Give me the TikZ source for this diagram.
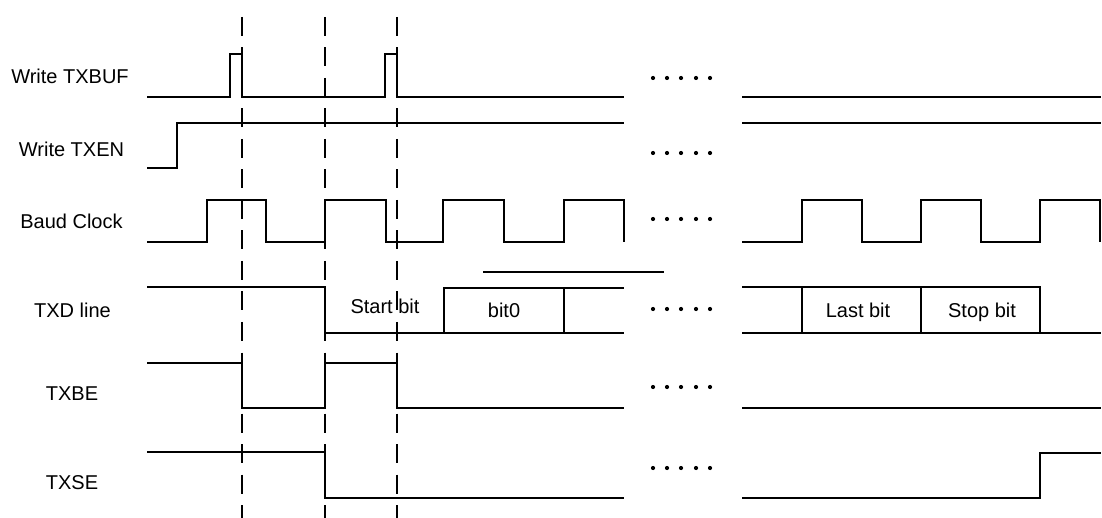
\documentclass[tikz,border=0pt]{standalone}
\usepackage{fontspec}
\setmainfont{Liberation Sans}
\begin{document}
\begin{tikzpicture}[x=1pt, y=-1pt,
    wave/.style={draw, line width=2.2pt},
    guide/.style={draw, line width=2pt, dash pattern=on 19pt off 11.5pt},
    lbl/.style={anchor=base, inner sep=0pt, font=\fontsize{20}{24}\selectfont}]
    \useasboundingbox (0,0) rectangle (1102,518);
    \node[lbl] (wbuf)  at (70,   84)  {Write TXBUF};
    \node[lbl] (wen)   at (71.5, 157) {Write TXEN};
    \node[lbl] (baud)  at (71.5, 229) {Baud Clock};
    \node[lbl] (txd)   at (72.5, 317) {TXD line};
    \node[lbl] (txbe)  at (72,   400) {TXBE};
    \node[lbl] (txse)  at (72,   489) {TXSE};
    \node[lbl] (start) at (385,  314) {Start bit};
    \node[lbl] (bit0)  at (504,  318) {bit0};
    \node[lbl] (last)  at (858,  318) {Last bit};
    \node[lbl] (stop)  at (982,  318) {Stop bit};
    \draw[guide] (242,17) -- (242,518);
    \draw[guide] (325,17) -- (325,518);
    \draw[guide] (397,17) -- (397,518);
    \draw[wave] (147,97) -- (230,97) -- (230,54) -- (242,54) -- (242,97) -- (385,97)
                -- (385,54) -- (397,54) -- (397,97) -- (624,97);
    \draw[wave] (742,97) -- (1101,97);
    \draw[wave] (147,168) -- (177,168) -- (177,123) -- (624,123);
    \draw[wave] (742,123) -- (1101,123);
    \draw[wave] (147,242) -- (207,242) -- (207,200) -- (266,200) -- (266,242) -- (325,242)
                -- (325,200) -- (386,200) -- (386,242) -- (443,242) -- (443,200) -- (504,200)
                -- (504,242) -- (564,242) -- (564,200) -- (624,200) -- (624,242);
    \draw[wave] (742,242) -- (802,242) -- (802,200) -- (862,200) -- (862,242) -- (921,242)
                -- (921,200) -- (981,200) -- (981,242) -- (1040,242) -- (1040,200)
                -- (1100,200) -- (1100,242);
    \draw[wave] (147,287) -- (325,287) -- (325,333) -- (624,333);
    \draw[wave] (444,333) -- (444,288) -- (624,288);
    \draw[wave] (564,288) -- (564,333);
    \draw[wave] (483,272) -- (664,272);
    \draw[wave] (742,287) -- (1040,287) -- (1040,333);
    \draw[wave] (742,333) -- (1101,333);
    \draw[wave] (802,287) -- (802,333);
    \draw[wave] (921,287) -- (921,333);
    \draw[wave] (147,363) -- (242,363) -- (242,408) -- (325,408) -- (325,363) -- (397,363)
                -- (397,408) -- (624,408);
    \draw[wave] (742,408) -- (1101,408);
    \draw[wave] (147,452) -- (325,452) -- (325,498) -- (624,498);
    \draw[wave] (742,498) -- (1040,498) -- (1040,453) -- (1101,453);
    \foreach \y in {78,153,219,309,387,468}
        \foreach \x in {653,667,681,696,710}
            \fill (\x,\y) circle (2.1pt);
\end{tikzpicture}
\end{document}
